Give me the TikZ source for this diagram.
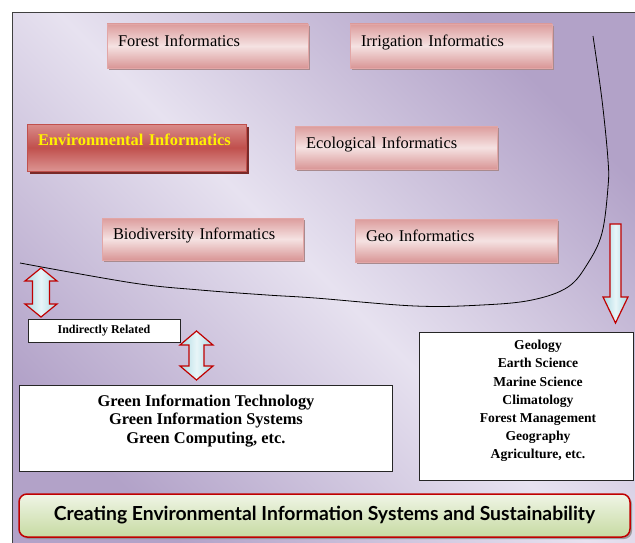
\documentclass[tikz,border=0pt]{standalone}
\usepackage{fontspec}
\setmainfont{Liberation Serif}
\newfontfamily\bannerfont{Lato}
\usetikzlibrary{shadows}
\definecolor{bgdark}{HTML}{B2A2C8}
\definecolor{bglight}{HTML}{E7E2F0}
\definecolor{framecol}{HTML}{404040}
\definecolor{pinktop}{HTML}{DC9C9C}
\definecolor{pinkmid}{HTML}{F5E2E2}
\definecolor{pinkbot}{HTML}{D99696}
\definecolor{pinkline}{HTML}{E2A6A6}
\definecolor{pinkshadow}{HTML}{A88A8E}
\definecolor{envtop}{HTML}{DA8C8A}
\definecolor{envmid}{HTML}{C0504D}
\definecolor{envbot}{HTML}{DC9492}
\definecolor{envshadow}{HTML}{7A2A28}
\definecolor{arrowred}{HTML}{C00000}
\definecolor{cyanedge}{HTML}{A9D8E2}
\definecolor{cyanmid}{HTML}{E8F5F8}
\definecolor{greentop}{HTML}{F0F5E6}
\definecolor{greenbot}{HTML}{C6DAA2}
\begin{document}
\begin{tikzpicture}[x=1pt,y=-1pt,
  pinkbox/.style={rectangle, draw=pinkline, line width=0.8pt,
    top color=pinktop, bottom color=pinkbot, middle color=pinkmid,
    drop shadow={shadow xshift=2pt, shadow yshift=-2pt, fill=pinkshadow, opacity=1},
    align=left, inner xsep=11pt, inner ysep=0pt,
    font=\fontsize{16.4}{19}\selectfont, text height=12pt, text depth=11pt},
  envbox/.style={rectangle, draw=envmid, line width=0.8pt,
    top color=envtop, bottom color=envbot, middle color=envmid,
    drop shadow={shadow xshift=3pt, shadow yshift=-3pt, fill=envshadow, opacity=1},
    align=left, inner xsep=11pt, inner ysep=0pt, text=yellow,
    font=\fontsize{16.4}{19}\selectfont\bfseries, text height=12pt, text depth=15pt},
  whitebox/.style={rectangle, draw=black!85, line width=0.8pt, fill=white, inner sep=0pt},
  blockarrow/.style={draw=arrowred, line width=1.2pt, line join=miter,
    left color=cyanedge, right color=cyanedge, middle color=cyanmid},
  banner/.style={rectangle, rounded corners=8pt, draw=arrowred, line width=1.5pt,
    top color=greentop, bottom color=greenbot,
    drop shadow={shadow xshift=2pt, shadow yshift=-2pt, fill=black!45, opacity=0.8}},
  curveline/.style={black, line width=0.8pt}
]
\useasboundingbox (0,0) rectangle (635,543);
\fill[white] (0,0) rectangle (635,543);
% background
\shade[top color=bgdark, bottom color=bgdark, middle color=bglight, shading angle=-45]
  (12,13) rectangle (640,548);
\draw[framecol, line width=1pt] (12,548) -- (12,13) -- (640,13);

% curve
\draw[curveline] plot[smooth, tension=0.6] coordinates {
  (593,36) (602,100) (608,160) (608,187) (602,233) (588,263) (568,287)
  (532,300) (482,305) (415,306) (315,298) (267,295) (200,290) (133,283) (20,263)};

% informatics boxes
\node[pinkbox, minimum width=201pt, text width=179pt, minimum height=44pt] (forest) at (207.5,46) {Forest Informatics};
\node[pinkbox, minimum width=202pt, text width=180pt, minimum height=44pt] (irrig) at (451,46) {Irrigation Informatics};
\node[envbox, minimum width=219pt, text width=197pt, minimum height=47pt] (env) at (136.5,147.5) {Environmental Informatics};
\node[pinkbox, minimum width=202pt, text width=180pt, minimum height=43pt] (eco) at (396,147.5) {Ecological Informatics};
\node[pinkbox, minimum width=201pt, text width=179pt, minimum height=42pt] (bio) at (202.5,239) {Biodiversity Informatics};
\node[pinkbox, minimum width=202pt, text width=180pt, minimum height=43pt] (geo) at (456,240.5) {Geo Informatics};

% indirectly related
\node[whitebox, minimum width=152pt, minimum height=23pt, font=\fontsize{12}{14}\selectfont\bfseries] (indirect) at (104,330.5) {Indirectly Related};

% green box
\node[whitebox, minimum width=373pt, minimum height=86pt] (green) at (205.5,428) {};
\node[align=center, inner sep=0pt, font=\fontsize{16.4}{18.5}\selectfont\bfseries] (greentext) at (206,421)
  {Green Information Technology\\Green Information Systems\\Green Computing, etc.};

% right box
\node[whitebox, minimum width=214pt, minimum height=148pt] (sciences) at (526,406) {};
\node[align=center, inner sep=0pt, font=\fontsize{13.6}{18.2}\selectfont\bfseries] (scitext) at (538,401)
  {Geology\\Earth Science\\Marine Science\\Climatology\\Forest Management\\Geography\\Agriculture, etc.};

% block arrows
\shade[blockarrow] (41,268) -- (57,281) -- (49.5,281) -- (49.5,304) -- (57,304) -- (41,317)
  -- (25,304) -- (32.5,304) -- (32.5,281) -- (25,281) -- cycle;
\shade[blockarrow] (196.5,331) -- (213,345) -- (204,345) -- (204,366) -- (213,366) -- (196.5,380)
  -- (180,366) -- (189,366) -- (189,345) -- (180,345) -- cycle;
\shade[blockarrow] (610,224) -- (621,224) -- (621,297) -- (628,297) -- (615.5,323)
  -- (603,297) -- (610,297) -- cycle;

% banner
\node[banner, minimum width=611pt, minimum height=43pt, inner sep=0pt] (bannerbox) at (324.5,515.5)
  {\resizebox{541pt}{!}{\bannerfont\bfseries Creating Environmental Information Systems and Sustainability}};
\end{tikzpicture}
\end{document}
